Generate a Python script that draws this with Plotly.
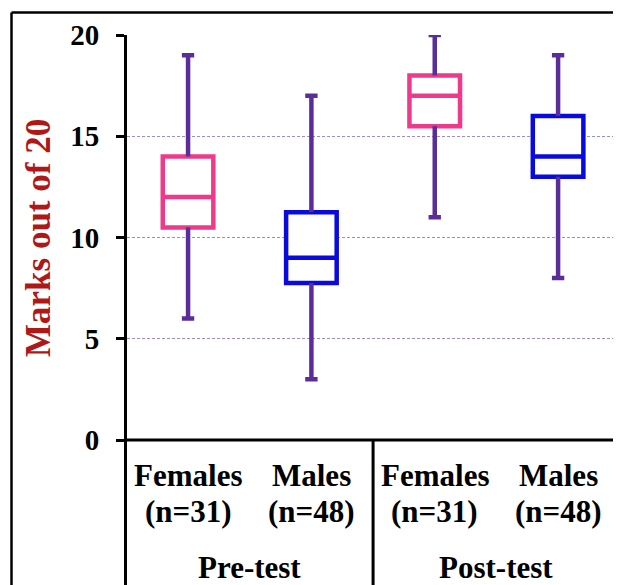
import plotly.graph_objects as go

# ---- data ----
groups = ["Pre-test", "Post-test"]
sexes = ["Females", "Males", "Females", "Males"]
n_labels = ["(n=31)", "(n=48)", "(n=31)", "(n=48)"]
mins = [6, 3, 11, 8]
q1s = [10.5, 7.75, 15.5, 13]
medians = [12, 9, 17, 14]
q3s = [14, 11.25, 18, 16]
maxs = [19, 17, 20, 19]
y_ticks = [0, 5, 10, 15, 20]

# ---- styling ----
PINK = "#EE3A8C"
BLUE = "#0A0ADC"
PURPLE = "#5B2D98"
TITLE_RED = "#B01818"
FONT = "Liberation Serif, Times New Roman, serif"
box_colors = [PINK, BLUE, PINK, BLUE]

# page body has an 8px margin: size the figure so it fills the window exactly
OFF = 8
WIN_W, WIN_H = 621, 585
W, H = WIN_W - OFF, WIN_H - OFF
# plot area in window pixel coordinates
L, R, T, B = 127, 621, 35, 440
x_range = [-0.495, 3.51]


def px_x(x):
    return (x - L) / (R - L)


def px_y(y):
    return (B - y) / (B - T)


positions = list(range(len(sexes)))

fig = go.Figure()

# boxes
for i, p in enumerate(positions):
    fig.add_trace(go.Box(
        x=[p], q1=[q1s[i]], median=[medians[i]], q3=[q3s[i]],
        lowerfence=[q1s[i]], upperfence=[q3s[i]],
        width=0.41, whiskerwidth=0, boxpoints=False,
        line=dict(color=box_colors[i], width=4.5), fillcolor="white",
        showlegend=False, hoverinfo="skip",
    ))

# whiskers with caps
cap = 0.05
wx, wy = [], []
for i, p in enumerate(positions):
    wx += [p, p, None, p - cap, p + cap, None, p, p, None, p - cap, p + cap, None]
    wy += [q3s[i], maxs[i], None, maxs[i], maxs[i], None,
           q1s[i], mins[i], None, mins[i], mins[i], None]
fig.add_trace(go.Scatter(
    x=wx, y=wy, mode="lines", line=dict(color=PURPLE, width=4.5),
    cliponaxis=False, showlegend=False, hoverinfo="skip",
))

shapes = []
# outer frame
shapes.append(dict(type="line", xref="paper", yref="paper",
                   x0=px_x(11.5), x1=px_x(621), y0=px_y(12.5), y1=px_y(12.5),
                   line=dict(color="black", width=2.5)))
shapes.append(dict(type="line", xref="paper", yref="paper",
                   x0=px_x(11.5), x1=px_x(11.5), y0=px_y(12.5), y1=px_y(585),
                   line=dict(color="black", width=2.5)))
# y-axis extension into table
shapes.append(dict(type="line", xref="paper", yref="paper",
                   x0=px_x(125.5), x1=px_x(125.5), y0=0, y1=px_y(585),
                   line=dict(color="black", width=3)))
# table top line (x axis)
shapes.append(dict(type="line", xref="x", yref="paper",
                   x0=x_range[0], x1=3.5, y0=0, y1=0,
                   line=dict(color="black", width=3)))
# group divider & right border
for xv in [1.5, 3.5]:
    shapes.append(dict(type="line", xref="x", yref="paper",
                       x0=xv, x1=xv, y0=0, y1=px_y(585),
                       line=dict(color="black", width=3)))

label_font = dict(family=FONT, size=31, color="black", weight="bold")
annotations = []
for i, p in enumerate(positions):
    annotations.append(dict(xref="x", yref="paper", x=p, y=px_y(476),
                            text=sexes[i], showarrow=False, font=label_font,
                            xanchor="center", yanchor="middle"))
    annotations.append(dict(xref="x", yref="paper", x=p, y=px_y(511),
                            text=n_labels[i], showarrow=False, font=label_font,
                            xanchor="center", yanchor="middle"))
for g, xc in zip(groups, [0.5, 2.5]):
    annotations.append(dict(xref="x", yref="paper", x=xc, y=px_y(567),
                            text=g, showarrow=False, font=label_font,
                            xanchor="center", yanchor="middle"))
# y axis title
annotations.append(dict(xref="paper", yref="paper", x=px_x(38), y=px_y(238),
                        text="Marks out of 20", textangle=-90, showarrow=False,
                        font=dict(family=FONT, size=35, color=TITLE_RED, weight="bold"),
                        xanchor="center", yanchor="middle"))

fig.update_layout(
    width=W, height=H,
    margin=dict(l=L - OFF, r=WIN_W - R, t=T - OFF, b=WIN_H - B, pad=0),
    paper_bgcolor="white", plot_bgcolor="white",
    boxmode="overlay",
    shapes=shapes, annotations=annotations,
    xaxis=dict(range=x_range, showticklabels=False, ticks="", showgrid=False,
               zeroline=False, showline=False, fixedrange=True),
    yaxis=dict(range=[0, 20], tickvals=y_ticks, ticktext=[str(v) for v in y_ticks],
               ticks="outside", ticklen=8, tickwidth=3, tickcolor="black",
               showline=True, linecolor="black", linewidth=3,
               showgrid=True, gridcolor="#A08AD0", gridwidth=1, griddash="3px,2px",
               zeroline=False, ticklabelstandoff=11,
               tickfont=dict(family=FONT, size=29, color="black", weight="bold"),
               fixedrange=True),
)

fig.write_html("out.html", config={"displayModeBar": False})
